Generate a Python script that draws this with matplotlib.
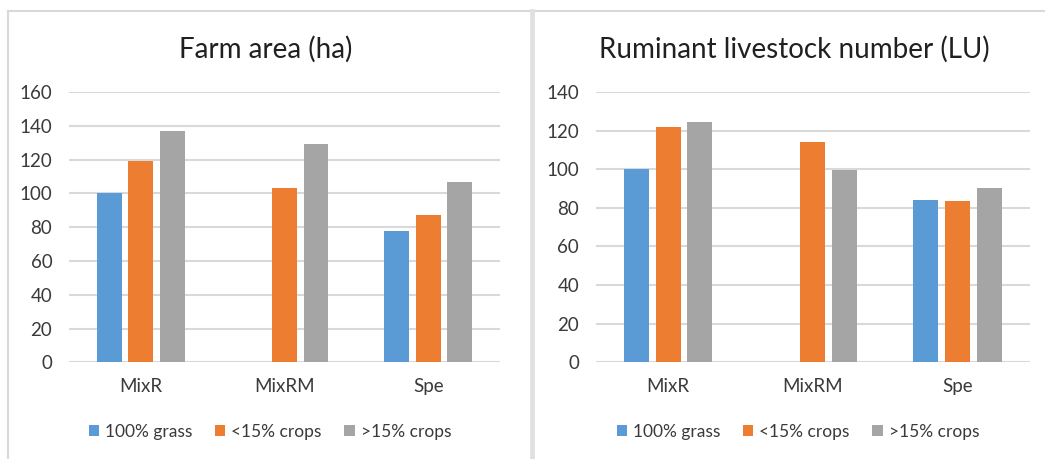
import numpy as np
import matplotlib
matplotlib.use("Agg")
import matplotlib.pyplot as plt
from matplotlib.lines import Line2D
from matplotlib.patches import Patch

plt.rcParams['font.family'] = ['Lato', 'DejaVu Sans']

# Data
categories = ["MixR", "MixRM", "Spe"]
series_names = ["100% grass", "<15% crops", ">15% crops"]
colors = ["#5B9BD5", "#ED7D31", "#A5A5A5"]

farm_grass = [100, np.nan, 78]
farm_lt15 = [119, 103, 87]
farm_gt15 = [137, 129.5, 107]

lu_grass = [100, np.nan, 84]
lu_lt15 = [122, 114, 83.5]
lu_gt15 = [124.5, 99.5, 90.5]

W, H = 1045, 459
fig = plt.figure(figsize=(W / 100, H / 100), dpi=100)
fig.patch.set_facecolor("white")

text_col = "#3A3A3A"
grid_col = "#D9D9D9"


def draw_panel(rect, values, ymax, title, title_x, legend_x):
    ax = fig.add_axes(rect)
    x = np.arange(len(categories))
    step, width = 0.22, 0.172
    for i, vals in enumerate(values):
        ax.bar(x + (i - 1) * step, vals, width, color=colors[i], zorder=3)
    ax.set_xlim(-0.5, len(categories) - 0.5)
    ax.set_ylim(0, ymax)
    ax.set_yticks(np.arange(0, ymax + 1, 20))
    ax.set_xticks(x)
    ax.set_xticklabels(categories)
    ax.grid(axis="y", color=grid_col, linewidth=1.5, zorder=0)
    ax.set_axisbelow(True)
    for s in ax.spines.values():
        s.set_visible(False)
    ax.tick_params(axis="both", length=0, labelsize=13.5, labelcolor=text_col)
    ax.tick_params(axis="y", pad=12)
    ax.tick_params(axis="x", pad=11)
    fig.text(title_x, 1 - 49 / H, title, ha="center", va="center",
             fontsize=20, color="#202020")
    handles = [Patch(facecolor=c, edgecolor="none") for c in colors]
    fig.legend(handles, series_names, loc="center",
               bbox_to_anchor=(legend_x, 1 - 432 / H), ncol=3, frameon=False,
               fontsize=12.5, labelcolor=text_col, handlelength=0.6,
               handleheight=0.6, handletextpad=0.35, columnspacing=1.3)
    return ax


ax_bottom = 1 - 362.3 / H
ax_height = (362.3 - 92) / H

draw_panel([69 / W, ax_bottom, 431 / W, ax_height],
           [farm_grass, farm_lt15, farm_gt15], 160,
           "Farm area (ha)", 266 / W, 270 / W)
draw_panel([595.7 / W, ax_bottom, 434.3 / W, ax_height],
           [lu_grass, lu_lt15, lu_gt15], 140,
           "Ruminant livestock number (LU)", 794 / W, 798 / W)

# panel borders
border = "#D9D9D9"
fig.add_artist(Line2D([8 / W, 1], [1 - 11 / H, 1 - 11 / H], color=border,
                      linewidth=1.5, transform=fig.transFigure))
fig.add_artist(Line2D([8 / W, 8 / W], [0, 1 - 11 / H], color=border,
                      linewidth=1.5, transform=fig.transFigure))
fig.add_artist(Line2D([532 / W, 532 / W], [0, 1 - 11 / H], color="#E0E0E0",
                      linewidth=3.5, transform=fig.transFigure))

fig.savefig("out.png", dpi=100)
